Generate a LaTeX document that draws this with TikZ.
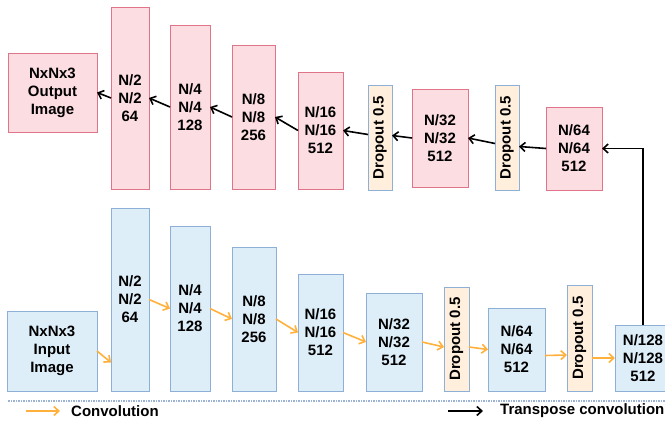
\documentclass[tikz,border=0pt]{standalone}
\usepackage{fontspec}
\setmainfont{Liberation Sans}
\usetikzlibrary{arrows.meta}
\definecolor{decfill}{RGB}{252,221,226}
\definecolor{decline}{RGB}{224,116,136}
\definecolor{encfill}{RGB}{221,238,249}
\definecolor{encline}{RGB}{142,175,214}
\definecolor{dropfill}{RGB}{255,239,220}
\definecolor{convorange}{RGB}{255,177,59}
\definecolor{sepblue}{RGB}{157,179,213}

\begin{document}
\begin{tikzpicture}[
    x=1pt, y=-1pt,
    block/.style={rectangle, draw=#1line, fill=#1fill, line width=0.9pt, anchor=north west, inner sep=0pt, outer sep=0pt, align=center, font=\fontsize{15}{18}\selectfont\bfseries},
    drop/.style={block=enc, fill=dropfill},
    conv/.style={draw=convorange, line width=1.6pt, -{Straight Barb[length=5pt, width=9pt]}},
    tconv/.style={draw=black, line width=1.6pt, -{Straight Barb[length=5pt, width=9pt]}},
    legend/.style={anchor=west, inner sep=0pt, font=\fontsize{15}{18}\selectfont\bfseries}
]
\useasboundingbox (0,0) rectangle (665,422);

% Decoder (top row)
\node[block=dec, minimum width=89, minimum height=79] (outimg) at (8,53) {NxNx3\\Output\\Image};
\node[block=dec, minimum width=38, minimum height=182] (d2) at (111,7) {N/2\\N/2\\64};
\node[block=dec, minimum width=40, minimum height=164] (d4) at (170,25) {N/4\\N/4\\128};
\node[block=dec, minimum width=43, minimum height=144] (d8) at (232,45) {N/8\\N/8\\256};
\node[block=dec, minimum width=45, minimum height=117] (d16) at (298,72) {N/16\\N/16\\512};
\node[drop, minimum width=24, minimum height=105] (dropt1) at (368,85) {\rotatebox{90}{Dropout 0.5}};
\node[block=dec, minimum width=56, minimum height=98] (d32) at (412,89) {N/32\\N/32\\512};
\node[drop, minimum width=24, minimum height=105] (dropt2) at (495,85) {\rotatebox{90}{Dropout 0.5}};
\node[block=dec, minimum width=56, minimum height=83] (d64) at (546,107) {N/64\\N/64\\512};

% Encoder (bottom row)
\node[block=enc, minimum width=90, minimum height=80] (inimg) at (7,311) {NxNx3\\Input\\Image};
\node[block=enc, minimum width=38, minimum height=183] (e2) at (111,208) {N/2\\N/2\\64};
\node[block=enc, minimum width=40, minimum height=165] (e4) at (170,226) {N/4\\N/4\\128};
\node[block=enc, minimum width=44, minimum height=144] (e8) at (232,247) {N/8\\N/8\\256};
\node[block=enc, minimum width=45, minimum height=117] (e16) at (298,274) {N/16\\N/16\\512};
\node[block=enc, minimum width=56, minimum height=98] (e32) at (366,293) {N/32\\N/32\\512};
\node[drop, minimum width=25, minimum height=104] (dropb1) at (444,287) {\rotatebox{90}{Dropout 0.5}};
\node[block=enc, minimum width=57, minimum height=83] (e64) at (488,308) {N/64\\N/64\\512};
\node[drop, minimum width=25, minimum height=106] (dropb2) at (567,285) {\rotatebox{90}{Dropout 0.5}};
\node[block=enc, minimum width=56, minimum height=66] (e128) at (615,325) {N/128\\N/128\\512};

% Convolution arrows
\draw[conv] (inimg.east) -- ([yshift=-63pt]e2.west);
\draw[conv] (e2.east) -- (e4.west);
\draw[conv] (e4.east) -- (e8.west);
\draw[conv] (e8.east) -- (e16.west);
\draw[conv] (e16.east) -- (e32.west);
\draw[conv] (e32.east) -- ([yshift=-8pt]dropb1.west);
\draw[conv] ([yshift=-8pt]dropb1.east) -- (e64.west);
\draw[conv] ([yshift=-6pt]e64.east) -- ([yshift=-17pt]dropb2.west);
\draw[conv] ([yshift=-20pt]dropb2.east) -- (e128.west);

% Transpose convolution arrows
\draw[tconv] (e128.north) |- (d64.east);
\draw[tconv] (d64.west) -- ([yshift=-9pt]dropt2.east);
\draw[tconv] ([yshift=-6pt]dropt2.west) -- (d32.east);
\draw[tconv] (d32.west) -- ([yshift=2pt]dropt1.east);
\draw[tconv] ([yshift=3pt]dropt1.west) -- (d16.east);
\draw[tconv] (d16.west) -- (d8.east);
\draw[tconv] (d8.west) -- (d4.east);
\draw[tconv] (d4.west) -- (d2.east);
\draw[tconv] (d2.west) -- (outimg.east);

% Separator and legend
\coordinate (sepl) at (8,401);
\coordinate (sepr) at (665,401);
\draw[sepblue, line width=1.5pt, dash pattern=on 1.5pt off 1pt] (sepl) -- (sepr);
\coordinate (convs) at (26,411);
\coordinate (conve) at (60,411);
\draw[conv] (convs) -- (conve);
\node[legend] (convlbl) at (71,411) {Convolution};
\coordinate (tconvs) at (448,411);
\coordinate (tconve) at (483,411);
\draw[tconv] (tconvs) -- (tconve);
\node[legend] (tconvlbl) at (500,411) {Transpose convolution};
\end{tikzpicture}
\end{document}
